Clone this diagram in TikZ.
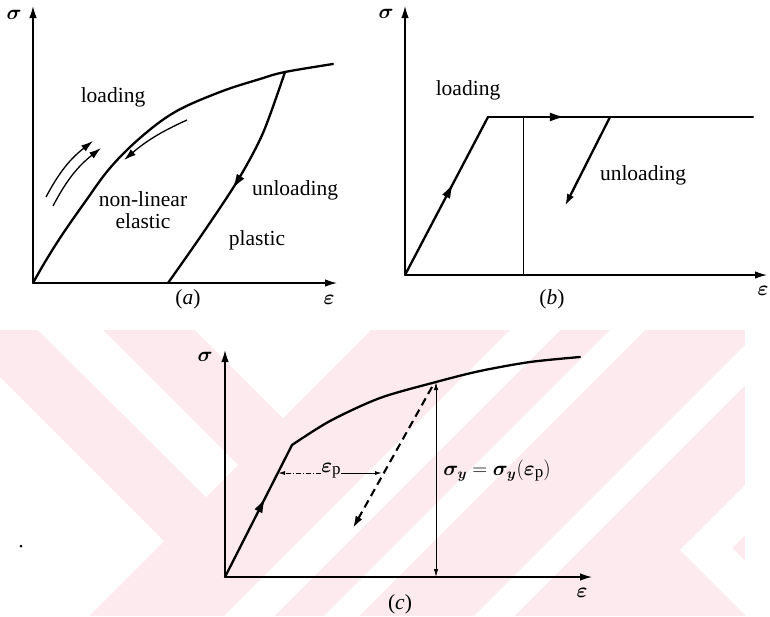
\documentclass[tikz,border=0pt]{standalone}
\usepackage{fontspec}
\setmainfont{Liberation Serif}
\usepackage{amsmath}
\usepackage{bm}
\usetikzlibrary{arrows.meta,decorations.markings}
\definecolor{wmpink}{RGB}{253,234,238}
\tikzset{
  axisline/.style={line width=1.3pt,-{Latex[length=12pt,width=7.5pt]}},
  curveline/.style={line width=2.3pt,line join=round,line cap=round},
  thinline/.style={line width=1pt},
  txt/.style={font=\fontsize{21.5}{24}\selectfont,inner sep=0pt},
  arrowend/.style={-{Latex[length=12pt,width=7.5pt]}},
  midtip/.style={postaction={decorate},decoration={markings,mark=at position #1 with {\arrow{Latex[length=15pt,width=9pt]}}}},
}
\newcommand{\sigy}{\ensuremath{\bm{\sigma}_{\bm{y}}}}
\begin{document}
\begin{tikzpicture}[x=1pt,y=-1pt]
\useasboundingbox (0,0) rectangle (770,616);
% ---------- watermark ----------
\begin{scope}
\clip (0,330) rectangle (770,616);
\fill[wmpink] (0,330) rectangle (745,616);
\fill[white] (0,377) -- (164,541) -- (89,616) -- (0,616) -- cycle;
\fill[white] (38,330) -- (103,330) -- (238,465) -- (206,497) -- cycle;
\fill[white] (195,330) -- (371,330) -- (283,418) -- cycle;
\fill[white] (510,330) -- (560,330) -- (274,616) -- (224,616) -- cycle;
\fill[white] (610,330) -- (645,330) -- (359,616) -- (324,616) -- cycle;
\fill[white] (760,330) -- (800,330) -- (514,616) -- (474,616) -- cycle;
\fill[white] (680,550) -- (770,460) -- (770,510) -- (732,548) -- (770,586) -- (770,640) -- cycle;
\end{scope}
% ---------- panel (a) ----------
\coordinate (oa) at (33,283);
\node[txt] (sa) at (14,15) {$\bm{\sigma}$};
\node[txt] (ea) at (329,300) {$\bm{\varepsilon}$};
\draw[axisline] (oa) -- (33,6);
\draw[axisline] (oa) -- (337,283);
\draw[curveline] plot[smooth,tension=0.6] coordinates {(33,283) (45,262) (62,235) (85,202) (110,168) (140,138) (175,112) (220,92) (260,79) (285,72) (333,64)};
\draw[curveline,midtip=0.53] plot[smooth] coordinates {(285,72) (263,133) (238,180) (203,233) (168,283)};
\draw[line width=1.3pt,arrowend] (46,197) to[bend left=12] (93,141);
\draw[line width=1.3pt,arrowend] (53,206) to[bend left=12] (101,148);
\draw[line width=1.3pt,arrowend] (187,120) to[bend right=8] (124,160);
\node[txt] (la) at (113,97) {loading};
\node[txt,align=center,font=\fontsize{21.5}{21.5}\selectfont] (nl) at (143,210) {non-linear\\elastic};
\node[txt] (ua) at (295,190) {unloading};
\node[txt] (pa) at (257,240) {plastic};
\node[txt] (capa) at (188,299) {(\textit{a})};
% ---------- panel (b) ----------
\coordinate (ob) at (405,275);
\coordinate (b1) at (488,117);
\coordinate (b2) at (753,117);
\coordinate (bv) at (523,117);
\coordinate (bu) at (610,117);
\coordinate (bd) at (523,275);
\coordinate (be) at (565,206);
\node[txt] (sb) at (386,14) {$\bm{\sigma}$};
\node[txt] (eb) at (763,291) {$\bm{\varepsilon}$};
\draw[axisline] (ob) -- (405,6);
\draw[axisline] (ob) -- (767,275);
\draw[curveline,midtip=0.58] (ob) -- (b1);
\draw[curveline,midtip=0.29] (b1) -- (b2);
\draw[thinline] (bv) -- (bd);
\draw[curveline,arrowend] (bu) -- (be);
\node[txt] (lb) at (468,90) {loading};
\node[txt] (ub) at (643,175) {unloading};
\node[txt] (capb) at (552,299) {(\textit{b})};
% ---------- panel (c) ----------
\coordinate (oc) at (225,577);
\coordinate (ck) at (292,445);
\coordinate (cy) at (436,382);
\coordinate (cl) at (278,473);
\coordinate (cr) at (382,473);
\coordinate (cd) at (353,528);
\coordinate (cb) at (436,577);
\coordinate (cs) at (432,387);
\node[txt] (sc) at (205,357) {$\bm{\sigma}$};
\node[txt] (ec) at (582,593) {$\bm{\varepsilon}$};
\draw[axisline] (oc) -- (225,350);
\draw[axisline] (oc) -- (592,577);
\draw[curveline,midtip=0.6] (oc) -- (ck);
\draw[curveline] plot[smooth] coordinates {(292,445) (330,421) (380,398) (436,382) (480,371) (530,362) (580,357)};
\draw[thinline,{Latex[length=8pt,width=4.5pt]}-{Latex[length=8pt,width=4.5pt]}] (cy) -- (cb);
\draw[line width=2.1pt,dash pattern=on 8pt off 5pt,arrowend] (cs) -- (cd);
\node[txt] (ep) at (331,471) {$\bm{\varepsilon}$\raisebox{-2pt}{\fontsize{17}{17}\selectfont p}};
\draw[thinline,dash pattern=on 5pt off 2pt on 1pt off 2pt,-{Latex[length=7pt,width=4pt]}] (ep.west |- cl) -- (cl);
\draw[thinline,-{Latex[length=7pt,width=4pt]}] (ep.east |- cr) -- (cr);
\node[txt] (sy) at (497,471) {\sigy{} $=$ \sigy{}$($$\bm{\varepsilon}$\raisebox{-2pt}{\fontsize{17}{17}\selectfont p}$)$};
\node[txt] (capc) at (400,604) {(\textit{c})};
\fill (21,546) circle (1.5pt);
\end{tikzpicture}
\end{document}
